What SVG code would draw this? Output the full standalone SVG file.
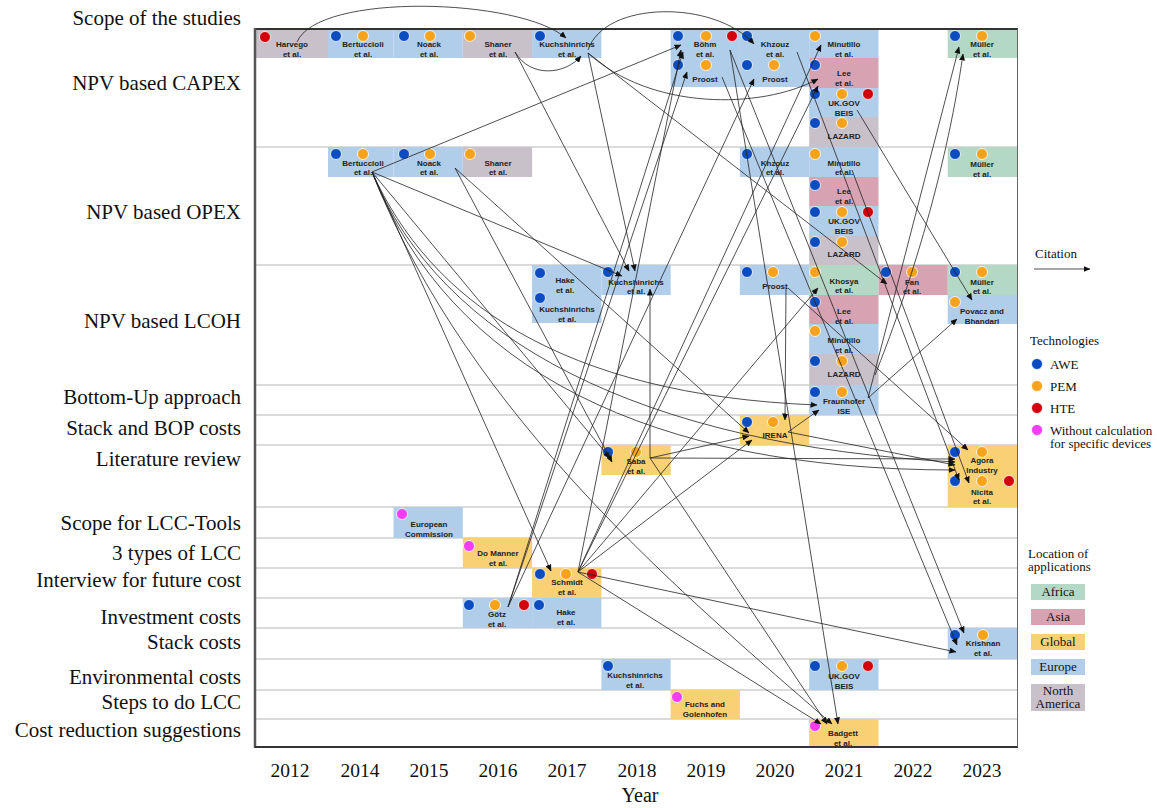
<svg xmlns="http://www.w3.org/2000/svg" width="1157" height="808" viewBox="0 0 1157 808">
<style>
.lbl{font-family:"Liberation Serif",serif;font-size:21px;fill:#111;text-anchor:end}
.yr{font-family:"Liberation Serif",serif;font-size:19.5px;fill:#111;text-anchor:middle}
.lg{font-family:"Liberation Serif",serif;font-size:13px;fill:#111}
.lgm{font-family:"Liberation Serif",serif;font-size:13px;fill:#111;text-anchor:middle}
.nt{font-family:"Liberation Sans",Arial,sans-serif;font-size:8px;font-weight:bold;fill:#222;text-anchor:middle}
.eu{fill:#b0cdea}.as{fill:#d7a2b2}.gl{fill:#f9d074}.af{fill:#b3d9c6}.na{fill:#c9c1c9}
.cb{fill:#0b4dc0;stroke:#fff;stroke-width:0.8}
.co{fill:#f6a31b;stroke:#fff;stroke-width:0.8}
.cr{fill:#d2000c;stroke:#fff;stroke-width:0.8}
.cm{fill:#f43cf2;stroke:#fff;stroke-width:0.8}
.grid{stroke:#cfcfcf;stroke-width:1.5}
.cn path{fill:none;stroke:#222;stroke-width:0.8;marker-end:url(#ah)}
</style>
<defs>
<marker id="ah" markerWidth="7" markerHeight="6" refX="6.5" refY="3" orient="auto" markerUnits="userSpaceOnUse">
<path d="M0,0 L7,3 L0,6 z" fill="#111"/>
</marker>
</defs>
<rect width="1157" height="808" fill="#fff"/>

<!-- grid -->
<g id="grid">
<line class="grid" x1="255" y1="147" x2="1017" y2="147"/>
<line class="grid" x1="255" y1="265" x2="1017" y2="265"/>
<line class="grid" x1="255" y1="385" x2="1017" y2="385"/>
<line class="grid" x1="255" y1="415" x2="1017" y2="415"/>
<line class="grid" x1="255" y1="445" x2="1017" y2="445"/>
<line class="grid" x1="255" y1="507" x2="1017" y2="507"/>
<line class="grid" x1="255" y1="538" x2="1017" y2="538"/>
<line class="grid" x1="255" y1="568" x2="1017" y2="568"/>
<line class="grid" x1="255" y1="598" x2="1017" y2="598"/>
<line class="grid" x1="255" y1="628" x2="1017" y2="628"/>
<line class="grid" x1="255" y1="659" x2="1017" y2="659"/>
<line class="grid" x1="255" y1="690" x2="1017" y2="690"/>
<line class="grid" x1="255" y1="719" x2="1017" y2="719"/>
</g>

<!-- row labels -->
<g id="row-labels">
<text class="lbl" x="241" y="25">Scope of the studies</text>
<text class="lbl" x="241" y="90">NPV based CAPEX</text>
<text class="lbl" x="241" y="219">NPV based OPEX</text>
<text class="lbl" x="241" y="328">NPV based LCOH</text>
<text class="lbl" x="241" y="404">Bottom-Up approach</text>
<text class="lbl" x="241" y="435">Stack and BOP costs</text>
<text class="lbl" x="241" y="466">Literature review</text>
<text class="lbl" x="241" y="530">Scope for LCC-Tools</text>
<text class="lbl" x="241" y="560">3 types of LCC</text>
<text class="lbl" x="241" y="587">Interview for future cost</text>
<text class="lbl" x="241" y="624">Investment costs</text>
<text class="lbl" x="241" y="649">Stack costs</text>
<text class="lbl" x="241" y="684">Environmental costs</text>
<text class="lbl" x="241" y="709">Steps to do LCC</text>
<text class="lbl" x="241" y="737">Cost reduction suggestions</text>
</g>

<!-- years -->
<g id="years">
<text class="yr" x="290" y="777">2012</text>
<text class="yr" x="360" y="777">2014</text>
<text class="yr" x="429" y="777">2015</text>
<text class="yr" x="498" y="777">2016</text>
<text class="yr" x="567" y="777">2017</text>
<text class="yr" x="637" y="777">2018</text>
<text class="yr" x="706" y="777">2019</text>
<text class="yr" x="775" y="777">2020</text>
<text class="yr" x="844" y="777">2021</text>
<text class="yr" x="913" y="777">2022</text>
<text class="yr" x="982" y="777">2023</text>
<text class="yr" x="640" y="802" style="font-size:20px">Year</text>
</g>

<!-- nodes: scope row -->
<g id="n-harvego"><rect class="na" x="255" y="29" width="73" height="29"/><circle class="cr" cx="265" cy="37" r="5.5"/><text class="nt" x="292" y="47">Harvego</text><text class="nt" x="292" y="57">et al.</text></g>
<g id="n-bertuccioli-scope"><rect class="eu" x="328" y="29" width="65.5" height="29"/><circle class="cb" cx="336" cy="36" r="5.5"/><circle class="co" cx="363" cy="36" r="5.5"/><text class="nt" x="363" y="47">Bertuccioli</text><text class="nt" x="363" y="57">et al.</text></g>
<g id="n-noack-scope"><rect class="eu" x="393.5" y="29" width="69.3" height="29"/><circle class="cb" cx="404" cy="36" r="5.5"/><circle class="co" cx="430" cy="36" r="5.5"/><text class="nt" x="429" y="47">Noack</text><text class="nt" x="429" y="57">et al.</text></g>
<g id="n-shaner-scope"><rect class="na" x="462.8" y="29" width="69.3" height="29"/><circle class="co" cx="470" cy="36" r="5.5"/><text class="nt" x="498" y="47">Shaner</text><text class="nt" x="498" y="57">et al.</text></g>
<g id="n-kuch-scope"><rect class="eu" x="532.1" y="29" width="69.3" height="29"/><circle class="cb" cx="540" cy="36" r="5.5"/><text class="nt" x="567" y="47">Kuchshinrichs</text><text class="nt" x="567" y="57">et al.</text></g>
<g id="n-bohm"><rect class="eu" x="670.6" y="29" width="69.3" height="29"/><circle class="cb" cx="678" cy="36" r="5.5"/><circle class="co" cx="706" cy="36" r="5.5"/><circle class="cr" cx="732" cy="36" r="5.5"/><text class="nt" x="705" y="47">Böhm</text><text class="nt" x="705" y="57">et al.</text></g>
<g id="n-proost19-capex"><rect class="eu" x="670.6" y="58" width="69.3" height="29"/><circle class="cb" cx="678" cy="65" r="5.5"/><circle class="co" cx="706" cy="65" r="5.5"/><text class="nt" x="705" y="82">Proost</text></g>
<g id="n-khzouz-scope"><rect class="eu" x="739.9" y="29" width="69.3" height="29"/><circle class="cb" cx="747" cy="36" r="5.5"/><text class="nt" x="775" y="47">Khzouz</text><text class="nt" x="775" y="57">et al.</text></g>
<g id="n-proost20-capex"><rect class="eu" x="739.9" y="58" width="69.3" height="29"/><circle class="cb" cx="747" cy="65" r="5.5"/><circle class="co" cx="774" cy="65" r="5.5"/><text class="nt" x="775" y="82">Proost</text></g>
<g id="n-minutillo-scope"><rect class="eu" x="809.2" y="29" width="69.3" height="29"/><circle class="co" cx="815" cy="36" r="5.5"/><text class="nt" x="844" y="47">Minutillo</text><text class="nt" x="844" y="57">et al.</text></g>
<g id="n-lee-capex"><rect class="as" x="809.2" y="58" width="69.3" height="30"/><circle class="cb" cx="815" cy="65" r="5.5"/><text class="nt" x="844" y="76">Lee</text><text class="nt" x="844" y="86">et al.</text></g>
<g id="n-ukgov-capex"><rect class="eu" x="809.2" y="88" width="69.3" height="29"/><circle class="cb" cx="815" cy="94" r="5.5"/><circle class="co" cx="842" cy="94" r="5.5"/><circle class="cr" cx="868" cy="94" r="5.5"/><text class="nt" x="844" y="106">UK.GOV</text><text class="nt" x="844" y="116">BEIS</text></g>
<g id="n-lazard-capex"><rect class="na" x="809.2" y="117" width="69.3" height="30"/><circle class="cb" cx="815" cy="123" r="5.5"/><circle class="co" cx="842" cy="123" r="5.5"/><text class="nt" x="844" y="139">LAZARD</text></g>
<g id="n-muller-scope"><rect class="af" x="947.7" y="29" width="69.3" height="29"/><circle class="cb" cx="955" cy="36" r="5.5"/><circle class="co" cx="982" cy="36" r="5.5"/><text class="nt" x="982" y="47">Müller</text><text class="nt" x="982" y="57">et al.</text></g>

<!-- OPEX row -->
<g id="n-bertuccioli-opex"><rect class="eu" x="328" y="147" width="65.5" height="30"/><circle class="cb" cx="336" cy="154" r="5.5"/><circle class="co" cx="363" cy="154" r="5.5"/><text class="nt" x="363" y="166">Bertuccioli</text><text class="nt" x="363" y="175">et al.</text></g>
<g id="n-noack-opex"><rect class="eu" x="393.5" y="147" width="69.3" height="30"/><circle class="cb" cx="404" cy="154" r="5.5"/><circle class="co" cx="430" cy="154" r="5.5"/><text class="nt" x="429" y="166">Noack</text><text class="nt" x="429" y="175">et al.</text></g>
<g id="n-shaner-opex"><rect class="na" x="462.8" y="147" width="69.3" height="30"/><circle class="co" cx="470" cy="154" r="5.5"/><text class="nt" x="498" y="166">Shaner</text><text class="nt" x="498" y="175">et al.</text></g>
<g id="n-khzouz-opex"><rect class="eu" x="739.9" y="147" width="69.3" height="30"/><circle class="cb" cx="747" cy="154" r="5.5"/><text class="nt" x="775" y="166">Khzouz</text><text class="nt" x="775" y="175">et al.</text></g>
<g id="n-minutillo-opex"><rect class="eu" x="809.2" y="147" width="69.3" height="30"/><circle class="co" cx="815" cy="154" r="5.5"/><text class="nt" x="844" y="166">Minutillo</text><text class="nt" x="844" y="175">et al.</text></g>
<g id="n-lee-opex"><rect class="as" x="809.2" y="177" width="69.3" height="29"/><circle class="cb" cx="815" cy="185" r="5.5"/><text class="nt" x="844" y="194">Lee</text><text class="nt" x="844" y="204">et al.</text></g>
<g id="n-ukgov-opex"><rect class="eu" x="809.2" y="206" width="69.3" height="30"/><circle class="cb" cx="815" cy="212" r="5.5"/><circle class="co" cx="842" cy="212" r="5.5"/><circle class="cr" cx="868" cy="212" r="5.5"/><text class="nt" x="844" y="224">UK.GOV</text><text class="nt" x="844" y="234">BEIS</text></g>
<g id="n-lazard-opex"><rect class="na" x="809.2" y="236" width="69.3" height="29"/><circle class="cb" cx="815" cy="242" r="5.5"/><circle class="co" cx="842" cy="242" r="5.5"/><text class="nt" x="844" y="257">LAZARD</text></g>
<g id="n-muller-opex"><rect class="af" x="947.7" y="147" width="69.3" height="30"/><circle class="cb" cx="955" cy="154" r="5.5"/><circle class="co" cx="982" cy="154" r="5.5"/><text class="nt" x="982" y="167">Müller</text><text class="nt" x="982" y="177">et al.</text></g>

<!-- LCOH row -->
<g id="n-hake-lcoh"><rect class="eu" x="532.1" y="265" width="69.3" height="30"/><circle class="cb" cx="540" cy="273" r="5.5"/><text class="nt" x="565" y="283">Hake</text><text class="nt" x="565" y="293">et al.</text></g>
<g id="n-kuch17-lcoh"><rect class="eu" x="532.1" y="295" width="69.3" height="28"/><circle class="cb" cx="540" cy="298" r="5.5"/><text class="nt" x="567" y="312">Kuchshinrichs</text><text class="nt" x="567" y="322">et al.</text></g>
<g id="n-kuch18-lcoh"><rect class="eu" x="601.4" y="265" width="69.3" height="30"/><circle class="cb" cx="608" cy="272" r="5.5"/><text class="nt" x="636" y="285">Kuchshinrichs</text><text class="nt" x="636" y="294">et al.</text></g>
<g id="n-proost-lcoh"><rect class="eu" x="739.9" y="265" width="69.3" height="30"/><circle class="cb" cx="747" cy="272" r="5.5"/><circle class="co" cx="773" cy="272" r="5.5"/><text class="nt" x="775" y="289">Proost</text></g>
<g id="n-khosya"><rect class="af" x="809.2" y="265" width="69.3" height="30"/><circle class="co" cx="815" cy="272" r="5.5"/><text class="nt" x="844" y="284">Khosya</text><text class="nt" x="844" y="293">et al.</text></g>
<g id="n-lee-lcoh"><rect class="as" x="809.2" y="295" width="69.3" height="29"/><circle class="cb" cx="815" cy="302" r="5.5"/><text class="nt" x="844" y="314">Lee</text><text class="nt" x="844" y="324">et al.</text></g>
<g id="n-minutillo-lcoh"><rect class="eu" x="809.2" y="324" width="69.3" height="30"/><circle class="co" cx="815" cy="331" r="5.5"/><text class="nt" x="844" y="343">Minutillo</text><text class="nt" x="844" y="353">et al.</text></g>
<g id="n-lazard-lcoh"><rect class="na" x="809.2" y="354" width="69.3" height="31"/><circle class="cb" cx="815" cy="361" r="5.5"/><circle class="co" cx="842" cy="361" r="5.5"/><text class="nt" x="844" y="377">LAZARD</text></g>
<g id="n-fan"><rect class="as" x="878.5" y="265" width="69.3" height="30"/><circle class="cb" cx="886" cy="272" r="5.5"/><circle class="co" cx="912" cy="272" r="5.5"/><text class="nt" x="912" y="285">Fan</text><text class="nt" x="912" y="294">et al.</text></g>
<g id="n-muller-lcoh"><rect class="af" x="947.7" y="265" width="69.3" height="30"/><circle class="cb" cx="955" cy="272" r="5.5"/><circle class="co" cx="982" cy="272" r="5.5"/><text class="nt" x="982" y="285">Müller</text><text class="nt" x="982" y="294">et al.</text></g>
<g id="n-povacz"><rect class="eu" x="947.7" y="295" width="69.3" height="29"/><circle class="co" cx="955" cy="302" r="5.5"/><text class="nt" x="982" y="314">Povacz and</text><text class="nt" x="982" y="324">Bhandari</text></g>

<!-- other rows -->
<g id="n-fraunhofer"><rect class="eu" x="809.2" y="385" width="69.3" height="30"/><circle class="cb" cx="815" cy="392" r="5.5"/><circle class="co" cx="842" cy="392" r="5.5"/><text class="nt" x="844" y="404">Fraunhofer</text><text class="nt" x="844" y="414">ISE</text></g>
<g id="n-irena"><rect class="gl" x="739.9" y="415" width="69.3" height="30"/><circle class="cb" cx="747" cy="422" r="5.5"/><circle class="co" cx="773" cy="422" r="5.5"/><text class="nt" x="775" y="438">IRENA</text></g>
<g id="n-saba"><rect class="gl" x="601.4" y="445" width="69.3" height="30"/><circle class="cb" cx="608" cy="452" r="5.5"/><circle class="co" cx="636" cy="452" r="5.5"/><text class="nt" x="636" y="464">Saba</text><text class="nt" x="636" y="474">et al.</text></g>
<g id="n-agora"><rect class="gl" x="947.7" y="445" width="69.3" height="31"/><circle class="cb" cx="955" cy="452" r="5.5"/><circle class="co" cx="982" cy="452" r="5.5"/><text class="nt" x="982" y="463">Agora</text><text class="nt" x="982" y="473">Industry</text></g>
<g id="n-nicita"><rect class="gl" x="947.7" y="476" width="69.3" height="31"/><circle class="cb" cx="955" cy="481" r="5.5"/><circle class="co" cx="982" cy="481" r="5.5"/><circle class="cr" cx="1009" cy="481" r="5.5"/><text class="nt" x="982" y="495">Nicita</text><text class="nt" x="982" y="504">et al.</text></g>
<g id="n-ec"><rect class="eu" x="393.5" y="507" width="69.3" height="31"/><circle class="cm" cx="402" cy="514" r="5.5"/><text class="nt" x="429" y="527">European</text><text class="nt" x="429" y="537">Commission</text></g>
<g id="n-demanner"><rect class="gl" x="462.8" y="538" width="69.3" height="30"/><circle class="cm" cx="469" cy="546" r="5.5"/><text class="nt" x="498" y="556">Do Manner</text><text class="nt" x="498" y="566">et al.</text></g>
<g id="n-schmidt"><rect class="gl" x="532.1" y="568" width="69.3" height="30"/><circle class="cb" cx="540" cy="574" r="5.5"/><circle class="co" cx="566" cy="574" r="5.5"/><circle class="cr" cx="592" cy="574" r="5.5"/><text class="nt" x="567" y="585">Schmidt</text><text class="nt" x="567" y="595">et al.</text></g>
<g id="n-gotz"><rect class="eu" x="462.8" y="598" width="69.3" height="30"/><circle class="cb" cx="469" cy="605" r="5.5"/><circle class="co" cx="495" cy="605" r="5.5"/><circle class="cr" cx="524" cy="605" r="5.5"/><text class="nt" x="497" y="617">Götz</text><text class="nt" x="497" y="627">et al.</text></g>
<g id="n-hake-inv"><rect class="eu" x="532.1" y="598" width="69.3" height="30"/><circle class="cb" cx="539" cy="605" r="5.5"/><text class="nt" x="566" y="615">Hake</text><text class="nt" x="566" y="625">et al.</text></g>
<g id="n-krishnan"><rect class="eu" x="947.7" y="628" width="69.3" height="31"/><circle class="cb" cx="955" cy="635" r="5.5"/><circle class="co" cx="983" cy="635" r="5.5"/><text class="nt" x="983" y="646">Krishnan</text><text class="nt" x="983" y="656">et al.</text></g>
<g id="n-kuch-env"><rect class="eu" x="601.4" y="659" width="69.3" height="31"/><circle class="cb" cx="608" cy="666" r="5.5"/><text class="nt" x="635" y="678">Kuchshinrichs</text><text class="nt" x="635" y="688">et al.</text></g>
<g id="n-ukgov-env"><rect class="eu" x="809.2" y="659" width="69.3" height="31"/><circle class="cb" cx="815" cy="666" r="5.5"/><circle class="co" cx="842" cy="666" r="5.5"/><circle class="cr" cx="868" cy="666" r="5.5"/><text class="nt" x="844" y="679">UK.GOV</text><text class="nt" x="844" y="689">BEIS</text></g>
<g id="n-fuchs"><rect class="gl" x="670.6" y="690" width="69.3" height="29"/><circle class="cm" cx="677" cy="697" r="5.5"/><text class="nt" x="705" y="707">Fuchs and</text><text class="nt" x="705" y="717">Golenhofen</text></g>
<g id="n-badgett"><rect class="gl" x="809.2" y="719" width="69.3" height="28"/><circle class="cm" cx="815" cy="726" r="5.5"/><text class="nt" x="843" y="736">Badgett</text><text class="nt" x="843" y="746">et al.</text></g>

<!-- frame -->
<g id="frame" fill="none">
<line x1="255" y1="29" x2="1018" y2="29" stroke="#333" stroke-width="2"/>
<line x1="255" y1="28" x2="255" y2="748" stroke="#555" stroke-width="2.5"/>
<line x1="255" y1="747" x2="1018" y2="747" stroke="#333" stroke-width="2"/>
<line x1="1017.5" y1="29" x2="1017.5" y2="747" stroke="#666" stroke-width="1"/>
</g>

<!-- connectors -->
<g id="connectors" class="cn">
<path d="M297,42 C318,-8 520,-2 566,38"/>
<path d="M515,52 C530,78 565,75 581,56"/>
<path d="M588,50 C605,0 715,0 754,44"/>
<path d="M588,53 C650,110 760,110 818,79"/>
<path d="M515,52 L629,271"/>
<path d="M588,53 L635,271"/>
<path d="M588,53 L887,284"/>
<path d="M372,172 L681,45"/>
<path d="M372,172 L622,276"/>
<path d="M372,172 L610,458"/>
<path d="M372,172 L551,571"/>
<path d="M372,172 C430,300 560,395 817,405"/>
<path d="M372,172 C440,340 640,445 955,462"/>
<path d="M372,172 C450,370 650,470 955,470"/>
<path d="M372,172 C470,420 690,600 832,724"/>
<path d="M455,168 L612,462"/>
<path d="M455,168 L749,433"/>
<path d="M508,607 L683,52"/>
<path d="M508,607 L687,72"/>
<path d="M508,607 L754,79"/>
<path d="M578,572 L681,50"/>
<path d="M578,572 L818,86"/>
<path d="M578,572 L821,45"/>
<path d="M578,572 L818,288"/>
<path d="M578,572 L752,440"/>
<path d="M578,572 L956,652"/>
<path d="M578,572 L821,724"/>
<path d="M650,458 L650,289"/>
<path d="M650,458 L749,436"/>
<path d="M650,458 L955,459"/>
<path d="M650,458 L827,724"/>
<path d="M788,432 L819,410"/>
<path d="M788,432 L955,465"/>
<path d="M786,288 L785,420"/>
<path d="M788,288 L968,450"/>
<path d="M868,398 L959,47"/>
<path d="M868,398 L957,319"/>
<path d="M875,375 C905,300 945,180 963,54"/>
<path d="M857,110 L972,300"/>
<path d="M797,52 L959,480"/>
<path d="M852,170 L969,483"/>
<path d="M722,77 L957,645"/>
<path d="M730,50 L964,633"/>
<path d="M730,50 L838,724"/>
</g>

<!-- legend -->
<g id="legend">
<text class="lg" x="1035" y="258">Citation</text>
<line x1="1034" y1="269" x2="1090" y2="269" stroke="#222" stroke-width="0.8" marker-end="url(#ah)"/>
<text class="lg" x="1030" y="345">Technologies</text>
<circle class="cb" cx="1037" cy="364" r="5.5"/><text class="lg" x="1050" y="369">AWE</text>
<circle class="co" cx="1037" cy="386" r="5.5"/><text class="lg" x="1050" y="391">PEM</text>
<circle class="cr" cx="1037" cy="408" r="5.5"/><text class="lg" x="1050" y="413">HTE</text>
<circle class="cm" cx="1037" cy="430" r="5.5"/><text class="lg" x="1050" y="435">Without calculation</text><text class="lg" x="1050" y="448">for specific devices</text>
<text class="lg" x="1028" y="558">Location of</text>
<text class="lg" x="1028" y="571">applications</text>
<rect class="af" x="1031" y="584" width="54" height="16"/><text class="lgm" x="1058" y="596">Africa</text>
<rect class="as" x="1031" y="609" width="54" height="16"/><text class="lgm" x="1058" y="621">Asia</text>
<rect class="gl" x="1031" y="634" width="54" height="16"/><text class="lgm" x="1058" y="646">Global</text>
<rect class="eu" x="1031" y="659" width="54" height="16"/><text class="lgm" x="1058" y="671">Europe</text>
<rect class="na" x="1031" y="684" width="54" height="27"/><text class="lgm" x="1058" y="695">North</text><text class="lgm" x="1058" y="708">America</text>
</g>
</svg>
